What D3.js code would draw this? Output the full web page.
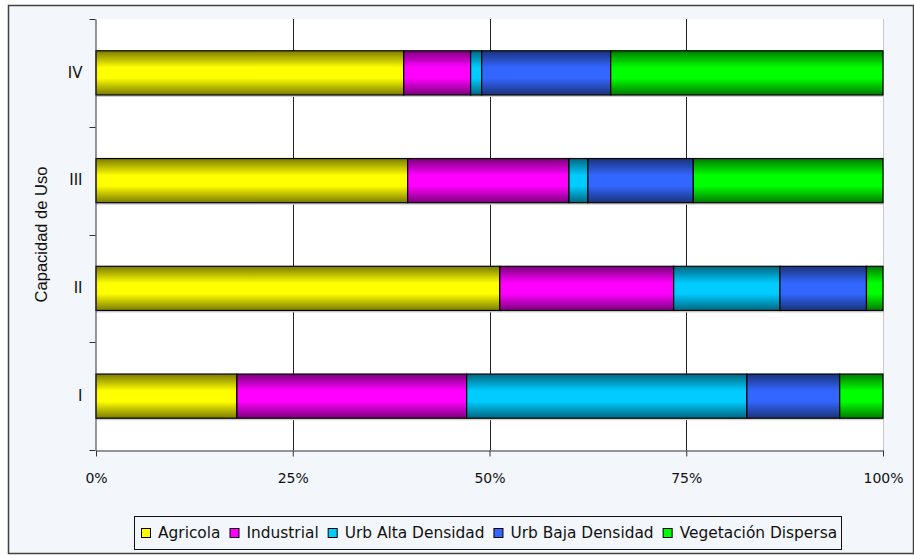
<!DOCTYPE html>
<html><head><meta charset="utf-8">
<script src="https://cdn.jsdelivr.net/npm/d3@7"></script>
<style>body{margin:0;background:#fff;}svg{display:block;}</style>
</head><body>
<svg id="chart" width="914" height="555"></svg>
<script>
const categories = ["I", "II", "III", "IV"];
const seriesNames = ["Agricola", "Industrial", "Urb Alta Densidad", "Urb Baja Densidad", "Vegetación Dispersa"];
const agricola   = [17.9, 51.3, 39.6, 39.1];
const industrial = [29.2, 22.1, 20.5, 8.5];
const urbAlta    = [35.6, 13.5, 2.4, 1.4];
const urbBaja    = [11.8, 11.0, 13.4, 16.4];
const vegetacion = [5.5, 2.1, 24.1, 34.6];
const xTicks = [0, 25, 50, 75, 100];
const xTickLabels = ["0%", "25%", "50%", "75%", "100%"];
const yTitle = "Capacidad de Uso";

const bright = ["#ffff00", "#ff00ff", "#00ccff", "#3366ff", "#00ff00"];
const dark   = ["#7a7a00", "#7a007a", "#006680", "#1a337a", "#007a00"];

const seriesValues = [agricola, industrial, urbAlta, urbBaja, vegetacion];
const rows = categories.map((c, i) => {
  const r = {cat: c};
  seriesNames.forEach((s, j) => r[s] = seriesValues[j][i]);
  return r;
});
const stacked = d3.stack().keys(seriesNames)(rows);

const svg = d3.select("#chart");
const W = 914, H = 555;
const m = {left: 96, right: 883, top: 19, bottom: 450};

svg.append("rect").attr("x", 0).attr("y", 0).attr("width", W).attr("height", H).attr("fill", "#ffffff");
svg.append("rect").attr("x", 8.5).attr("y", 5.5).attr("width", 905).attr("height", 548)
  .attr("fill", "#f3f6fa").attr("stroke", "#404040").attr("stroke-width", 1.5);

const defs = svg.append("defs");
seriesNames.forEach((s, j) => {
  const g = defs.append("linearGradient").attr("id", "g" + j)
    .attr("x1", 0).attr("y1", 0).attr("x2", 0).attr("y2", 1);
  g.append("stop").attr("offset", "0%").attr("stop-color", dark[j]);
  g.append("stop").attr("offset", "38%").attr("stop-color", bright[j]);
  g.append("stop").attr("offset", "62%").attr("stop-color", bright[j]);
  g.append("stop").attr("offset", "100%").attr("stop-color", dark[j]);
});

const x = d3.scaleLinear().domain([0, 100]).range([m.left, m.right]);
const y = d3.scaleBand().domain(categories.slice().reverse()).range([m.top, m.bottom])
  .paddingInner(0.59).paddingOuter(0.295);

svg.append("rect").attr("x", m.left).attr("y", m.top).attr("width", m.right - m.left)
  .attr("height", m.bottom - m.top).attr("fill", "#ffffff");
svg.append("line").attr("x1", m.right + 0.5).attr("x2", m.right + 0.5).attr("y1", m.top).attr("y2", m.bottom)
  .attr("stroke", "#c8c8c8").attr("stroke-width", 1);

svg.append("g").selectAll("line").data(xTicks.filter(t => t > 0 && t < 100)).join("line")
  .attr("x1", d => Math.round(x(d)) + 0.5).attr("x2", d => Math.round(x(d)) + 0.5)
  .attr("y1", m.top).attr("y2", m.bottom).attr("stroke", "#222").attr("stroke-width", 1);

svg.append("g").selectAll("rect").data(categories).join("rect")
  .attr("x", m.left).attr("y", d => y(d) + y.bandwidth())
  .attr("width", m.right - m.left).attr("height", 2).attr("fill", "#d0d0d0");

svg.append("g").selectAll("g").data(stacked).join("g")
  .attr("fill", (d, j) => `url(#g${j})`)
  .selectAll("rect").data(d => d).join("rect")
  .attr("x", d => x(d[0])).attr("y", d => y(d.data.cat))
  .attr("width", d => x(d[1]) - x(d[0])).attr("height", y.bandwidth())
  .attr("stroke", "#000").attr("stroke-width", 1.2);

const xAxis = svg.append("g").attr("transform", `translate(0,${m.bottom + 0.5})`)
  .call(d3.axisBottom(x).tickValues(xTicks).tickFormat((d, i) => xTickLabels[i]).tickSize(6).tickSizeOuter(0).tickPadding(17));
xAxis.select(".domain").attr("stroke", "#333");
xAxis.selectAll(".tick line").attr("stroke", "#333");
xAxis.selectAll("text").attr("font-family", "DejaVu Sans").attr("font-size", "14px").attr("fill", "#111");

const yAxisG = svg.append("g").attr("transform", `translate(${m.left - 0.5},0)`);
yAxisG.call(d3.axisLeft(y).tickSize(0).tickPadding(13));
yAxisG.select(".domain").attr("stroke", "#333");
yAxisG.selectAll("text").attr("font-family", "DejaVu Sans").attr("font-size", "15px").attr("fill", "#111");
const bounds = d3.range(categories.length + 1).map(i => m.top + i * y.step());
yAxisG.append("g").selectAll("line").data(bounds).join("line")
  .attr("x1", -6).attr("x2", 0).attr("y1", d => Math.round(d) + 0.5).attr("y2", d => Math.round(d) + 0.5)
  .attr("stroke", "#333");

svg.append("text").attr("transform", `translate(47,${(m.top + m.bottom) / 2}) rotate(-90)`)
  .attr("text-anchor", "middle").attr("font-family", "Liberation Sans, Arial").attr("font-size", "16.5px")
  .attr("fill", "#111").text(yTitle);

svg.append("rect").attr("x", 134.5).attr("y", 516.5).attr("width", 707).attr("height", 33)
  .attr("fill", "#f3f6fa").attr("stroke", "#111").attr("stroke-width", 1);
const leg = svg.append("g");
let cx = 141;
seriesNames.forEach((s, j) => {
  leg.append("rect").attr("x", cx + 0.5).attr("y", 528.5).attr("width", 9).attr("height", 9)
    .attr("fill", bright[j]).attr("stroke", "#000").attr("stroke-width", 1);
  const t = leg.append("text").attr("x", cx + 17).attr("y", 538).attr("font-family", "DejaVu Sans")
    .attr("font-size", "15.4px").attr("fill", "#111").text(s);
  cx += 17 + t.node().getComputedTextLength() + 9;
});
</script>
</body></html>
